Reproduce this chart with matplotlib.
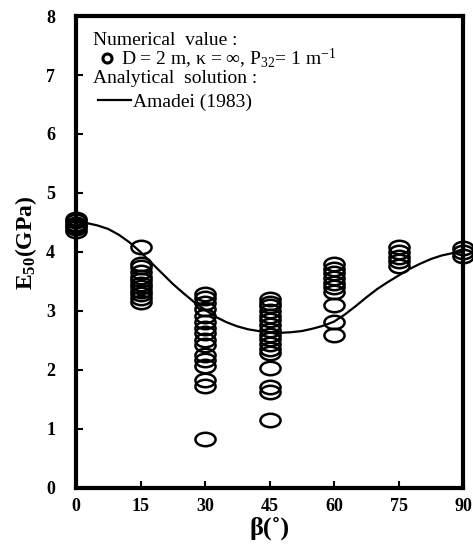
import matplotlib
matplotlib.use("Agg")
import matplotlib.pyplot as plt
from matplotlib.path import Path
from matplotlib.transforms import Affine2D
from matplotlib.lines import Line2D

plt.rcParams["mathtext.fontset"] = "custom"
plt.rcParams["mathtext.rm"] = "Liberation Serif"
plt.rcParams["mathtext.bf"] = "Liberation Serif:bold"
plt.rcParams["mathtext.it"] = "Liberation Serif:italic"

# ---- data ----
beta_groups = [0, 15, 30, 45, 60, 75, 90]
e50_0 = [4.36, 4.40, 4.44, 4.48, 4.52, 4.56]
e50_15 = [4.08, 3.80, 3.74, 3.66, 3.58, 3.52, 3.46, 3.40, 3.34, 3.28, 3.22, 3.16]
e50_30 = [3.29, 3.22, 3.14, 3.04, 2.92, 2.82, 2.72, 2.62, 2.50, 2.42, 2.25,
          2.17, 2.07, 1.83, 1.73, 0.83]
e50_45 = [3.20, 3.14, 3.08, 3.00, 2.92, 2.84, 2.76, 2.68, 2.60, 2.52, 2.44,
          2.36, 2.28, 2.03, 1.71, 1.63, 1.15]
e50_60 = [3.80, 3.72, 3.64, 3.56, 3.48, 3.40, 3.32, 3.10, 2.81, 2.59]
e50_75 = [4.08, 4.00, 3.92, 3.84, 3.76]
e50_90 = [4.06, 4.00, 3.94]
numerical = [e50_0, e50_15, e50_30, e50_45, e50_60, e50_75, e50_90]

amadei_beta = [0, 2.5, 5, 7.5, 10, 12.5, 15, 17.5, 20, 22.5, 25, 27.5, 30, 32.5,
               35, 37.5, 40, 42.5, 45, 47.5, 50, 52.5, 55, 57.5, 60, 62.5, 65,
               67.5, 70, 72.5, 75, 77.5, 80, 82.5, 85, 87.5, 90]
amadei_e50 = [4.50, 4.49, 4.45, 4.39, 4.29, 4.16, 4.00, 3.82, 3.64, 3.46, 3.30,
              3.15, 3.02, 2.90, 2.81, 2.74, 2.69, 2.66, 2.64, 2.63, 2.64, 2.66,
              2.70, 2.75, 2.82, 2.94, 3.08, 3.23, 3.37, 3.49, 3.60, 3.71, 3.80,
              3.88, 3.94, 3.98, 4.00]

x_ticks = [0, 15, 30, 45, 60, 75, 90]
y_ticks = [0, 1, 2, 3, 4, 5, 6, 7, 8]

serif = ["Liberation Serif", "DejaVu Serif"]

fig = plt.figure(figsize=(4.73, 5.48), dpi=100)
ax = fig.add_axes([0.1607, 0.1095, 0.8182, 0.8613])

ell = Path.unit_circle().transformed(Affine2D().scale(1.5, 1.0))

for b, vals in zip(beta_groups, numerical):
    ax.plot([b] * len(vals), vals, linestyle="none", marker=ell, markersize=14.5,
            markerfacecolor="none", markeredgecolor="black", markeredgewidth=1.8,
            clip_on=False, zorder=3)

ax.plot(amadei_beta, amadei_e50, color="black", linewidth=1.6, zorder=2)

ax.set_xlim(0, 90)
ax.set_ylim(0, 8)
ax.set_xticks(x_ticks)
ax.set_yticks(y_ticks)
ax.set_xticklabels([str(v) for v in x_ticks], family=serif, fontweight="bold", fontsize=13)
ax.set_yticklabels([str(v) for v in y_ticks], family=serif, fontweight="bold", fontsize=13)
ax.tick_params(direction="in", length=5, width=1.5, pad=7)
ax.tick_params(axis="y", pad=15)
for s in ax.spines.values():
    s.set_linewidth(3)

ax.set_xlabel("β(˚)", family=serif, fontweight="bold", fontsize=19, labelpad=1)
ax.set_ylabel(r"$\mathbf{E_{50}}$(GPa)", family=serif, fontweight="bold",
              fontsize=17)
ax.yaxis.set_label_coords(-0.095, 0.52)

ax.text(0.044, 0.949, "Numerical  value :", transform=ax.transAxes,
        family=serif, fontsize=14, va="center", ha="left")
ax.text(0.044, 0.867, "Analytical  solution :", transform=ax.transAxes,
        family=serif, fontsize=14, va="center", ha="left")

h_pts = Line2D([], [], linestyle="none", marker="o", markersize=6.5,
               markerfacecolor="none", markeredgecolor="black", markeredgewidth=2.2)
h_line = Line2D([], [], color="black", linewidth=1.6)
leg1 = ax.legend([h_pts], ["D = 2 m, κ = ∞, P$_{32}$= 1 m$^{\\mathrm{-1}}$"],
                 loc="center left", bbox_to_anchor=(0.065, 0.909), frameon=False,
                 prop={"family": serif, "size": 14}, handlelength=0.6,
                 handletextpad=0.4, borderpad=0, borderaxespad=0)
ax.add_artist(leg1)
ax.legend([h_line], ["Amadei (1983)"], loc="center left",
          bbox_to_anchor=(0.057, 0.818), frameon=False,
          prop={"family": serif, "size": 14}, handlelength=1.7,
          handletextpad=0.1, borderpad=0, borderaxespad=0)

fig.savefig("out.png", dpi=100)
